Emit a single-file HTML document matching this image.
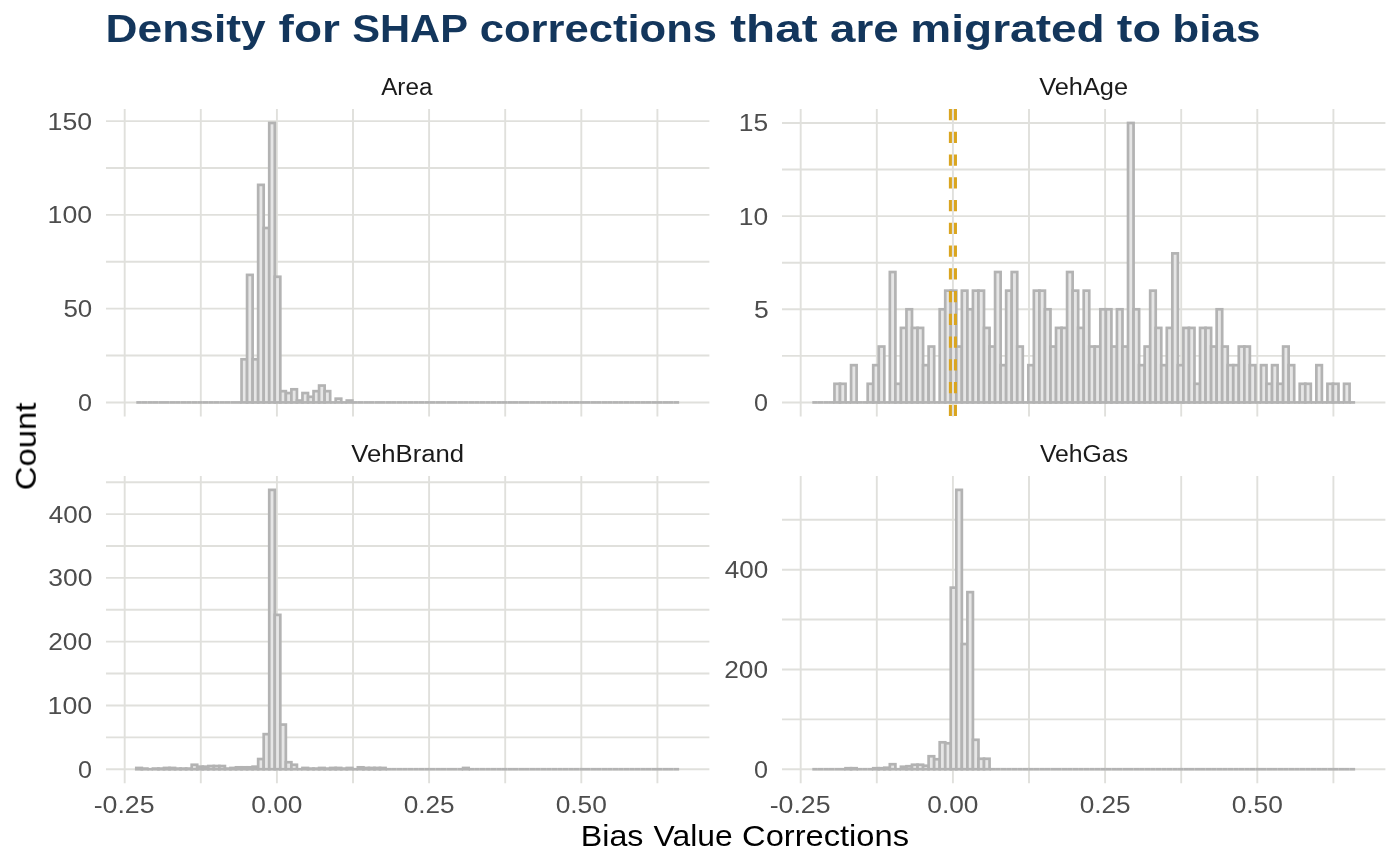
<!DOCTYPE html>
<html><head><meta charset="utf-8"><title>Density for SHAP corrections</title>
<style>html,body{margin:0;padding:0;background:#fff;}body{width:1400px;height:866px;overflow:hidden;font-family:"Liberation Sans",sans-serif;}svg{display:block;} text{will-change:transform;}</style>
</head><body>
<svg width="1400" height="866" viewBox="0 0 1400 866">
<rect width="1400" height="866" fill="#ffffff"/>
<line x1="106" y1="402.43" x2="709.4" y2="402.43" stroke="#e0e0dc" stroke-width="1.9"/>
<line x1="106" y1="355.54" x2="709.4" y2="355.54" stroke="#e0e0dc" stroke-width="1.9"/>
<line x1="106" y1="308.65" x2="709.4" y2="308.65" stroke="#e0e0dc" stroke-width="1.9"/>
<line x1="106" y1="261.76" x2="709.4" y2="261.76" stroke="#e0e0dc" stroke-width="1.9"/>
<line x1="106" y1="214.87" x2="709.4" y2="214.87" stroke="#e0e0dc" stroke-width="1.9"/>
<line x1="106" y1="167.99" x2="709.4" y2="167.99" stroke="#e0e0dc" stroke-width="1.9"/>
<line x1="106" y1="121.1" x2="709.4" y2="121.1" stroke="#e0e0dc" stroke-width="1.9"/>
<line x1="124.7" y1="109" x2="124.7" y2="416.4" stroke="#e0e0dc" stroke-width="1.9"/>
<line x1="200.8" y1="109" x2="200.8" y2="416.4" stroke="#e0e0dc" stroke-width="1.9"/>
<line x1="276.9" y1="109" x2="276.9" y2="416.4" stroke="#e0e0dc" stroke-width="1.9"/>
<line x1="353" y1="109" x2="353" y2="416.4" stroke="#e0e0dc" stroke-width="1.9"/>
<line x1="429.1" y1="109" x2="429.1" y2="416.4" stroke="#e0e0dc" stroke-width="1.9"/>
<line x1="505.2" y1="109" x2="505.2" y2="416.4" stroke="#e0e0dc" stroke-width="1.9"/>
<line x1="581.3" y1="109" x2="581.3" y2="416.4" stroke="#e0e0dc" stroke-width="1.9"/>
<line x1="657.4" y1="109" x2="657.4" y2="416.4" stroke="#e0e0dc" stroke-width="1.9"/>
<line x1="136.3" y1="402.43" x2="141.84" y2="402.43" stroke="#b3b3b3" stroke-width="2.7"/>
<line x1="141.84" y1="402.43" x2="147.38" y2="402.43" stroke="#b3b3b3" stroke-width="2.7"/>
<line x1="147.38" y1="402.43" x2="152.92" y2="402.43" stroke="#b3b3b3" stroke-width="2.7"/>
<line x1="152.92" y1="402.43" x2="158.46" y2="402.43" stroke="#b3b3b3" stroke-width="2.7"/>
<line x1="158.46" y1="402.43" x2="164" y2="402.43" stroke="#b3b3b3" stroke-width="2.7"/>
<line x1="164" y1="402.43" x2="169.53" y2="402.43" stroke="#b3b3b3" stroke-width="2.7"/>
<line x1="169.53" y1="402.43" x2="175.07" y2="402.43" stroke="#b3b3b3" stroke-width="2.7"/>
<line x1="175.07" y1="402.43" x2="180.61" y2="402.43" stroke="#b3b3b3" stroke-width="2.7"/>
<line x1="180.61" y1="402.43" x2="186.15" y2="402.43" stroke="#b3b3b3" stroke-width="2.7"/>
<line x1="186.15" y1="402.43" x2="191.69" y2="402.43" stroke="#b3b3b3" stroke-width="2.7"/>
<line x1="191.69" y1="402.43" x2="197.23" y2="402.43" stroke="#b3b3b3" stroke-width="2.7"/>
<line x1="197.23" y1="402.43" x2="202.77" y2="402.43" stroke="#b3b3b3" stroke-width="2.7"/>
<line x1="202.77" y1="402.43" x2="208.31" y2="402.43" stroke="#b3b3b3" stroke-width="2.7"/>
<line x1="208.31" y1="402.43" x2="213.85" y2="402.43" stroke="#b3b3b3" stroke-width="2.7"/>
<line x1="213.85" y1="402.43" x2="219.38" y2="402.43" stroke="#b3b3b3" stroke-width="2.7"/>
<line x1="219.38" y1="402.43" x2="224.92" y2="402.43" stroke="#b3b3b3" stroke-width="2.7"/>
<line x1="224.92" y1="402.43" x2="230.46" y2="402.43" stroke="#b3b3b3" stroke-width="2.7"/>
<line x1="230.46" y1="402.43" x2="236" y2="402.43" stroke="#b3b3b3" stroke-width="2.7"/>
<line x1="236" y1="402.43" x2="241.54" y2="402.43" stroke="#b3b3b3" stroke-width="2.7"/>
<rect x="241.54" y="359.29" width="5.54" height="43.14" fill="#e6e6e6" stroke="#b3b3b3" stroke-width="2.7"/>
<rect x="247.08" y="274.89" width="5.54" height="127.54" fill="#e6e6e6" stroke="#b3b3b3" stroke-width="2.7"/>
<rect x="252.62" y="359.29" width="5.54" height="43.14" fill="#e6e6e6" stroke="#b3b3b3" stroke-width="2.7"/>
<rect x="258.16" y="184.87" width="5.54" height="217.56" fill="#e6e6e6" stroke="#b3b3b3" stroke-width="2.7"/>
<rect x="263.7" y="228" width="5.54" height="174.42" fill="#e6e6e6" stroke="#b3b3b3" stroke-width="2.7"/>
<rect x="269.24" y="122.97" width="5.54" height="279.45" fill="#e6e6e6" stroke="#b3b3b3" stroke-width="2.7"/>
<rect x="274.77" y="276.77" width="5.54" height="125.66" fill="#e6e6e6" stroke="#b3b3b3" stroke-width="2.7"/>
<rect x="280.31" y="391.17" width="5.54" height="11.25" fill="#e6e6e6" stroke="#b3b3b3" stroke-width="2.7"/>
<rect x="285.85" y="393.05" width="5.54" height="9.38" fill="#e6e6e6" stroke="#b3b3b3" stroke-width="2.7"/>
<rect x="291.39" y="389.3" width="5.54" height="13.13" fill="#e6e6e6" stroke="#b3b3b3" stroke-width="2.7"/>
<rect x="296.93" y="400.55" width="5.54" height="1.88" fill="#e6e6e6" stroke="#b3b3b3" stroke-width="2.7"/>
<rect x="302.47" y="393.05" width="5.54" height="9.38" fill="#e6e6e6" stroke="#b3b3b3" stroke-width="2.7"/>
<rect x="308.01" y="396.8" width="5.54" height="5.63" fill="#e6e6e6" stroke="#b3b3b3" stroke-width="2.7"/>
<rect x="313.55" y="391.17" width="5.54" height="11.25" fill="#e6e6e6" stroke="#b3b3b3" stroke-width="2.7"/>
<rect x="319.09" y="385.55" width="5.54" height="16.88" fill="#e6e6e6" stroke="#b3b3b3" stroke-width="2.7"/>
<rect x="324.63" y="391.17" width="5.54" height="11.25" fill="#e6e6e6" stroke="#b3b3b3" stroke-width="2.7"/>
<line x1="330.16" y1="402.43" x2="335.7" y2="402.43" stroke="#b3b3b3" stroke-width="2.7"/>
<rect x="335.7" y="398.68" width="5.54" height="3.75" fill="#e6e6e6" stroke="#b3b3b3" stroke-width="2.7"/>
<line x1="341.24" y1="402.43" x2="346.78" y2="402.43" stroke="#b3b3b3" stroke-width="2.7"/>
<rect x="346.78" y="400.55" width="5.54" height="1.88" fill="#e6e6e6" stroke="#b3b3b3" stroke-width="2.7"/>
<line x1="352.32" y1="402.43" x2="357.86" y2="402.43" stroke="#b3b3b3" stroke-width="2.7"/>
<line x1="357.86" y1="402.43" x2="363.4" y2="402.43" stroke="#b3b3b3" stroke-width="2.7"/>
<line x1="363.4" y1="402.43" x2="368.94" y2="402.43" stroke="#b3b3b3" stroke-width="2.7"/>
<line x1="368.94" y1="402.43" x2="374.48" y2="402.43" stroke="#b3b3b3" stroke-width="2.7"/>
<line x1="374.48" y1="402.43" x2="380.02" y2="402.43" stroke="#b3b3b3" stroke-width="2.7"/>
<line x1="380.02" y1="402.43" x2="385.55" y2="402.43" stroke="#b3b3b3" stroke-width="2.7"/>
<line x1="385.56" y1="402.43" x2="391.09" y2="402.43" stroke="#b3b3b3" stroke-width="2.7"/>
<line x1="391.09" y1="402.43" x2="396.63" y2="402.43" stroke="#b3b3b3" stroke-width="2.7"/>
<line x1="396.63" y1="402.43" x2="402.17" y2="402.43" stroke="#b3b3b3" stroke-width="2.7"/>
<line x1="402.17" y1="402.43" x2="407.71" y2="402.43" stroke="#b3b3b3" stroke-width="2.7"/>
<line x1="407.71" y1="402.43" x2="413.25" y2="402.43" stroke="#b3b3b3" stroke-width="2.7"/>
<line x1="413.25" y1="402.43" x2="418.79" y2="402.43" stroke="#b3b3b3" stroke-width="2.7"/>
<line x1="418.79" y1="402.43" x2="424.33" y2="402.43" stroke="#b3b3b3" stroke-width="2.7"/>
<line x1="424.33" y1="402.43" x2="429.87" y2="402.43" stroke="#b3b3b3" stroke-width="2.7"/>
<line x1="429.87" y1="402.43" x2="435.41" y2="402.43" stroke="#b3b3b3" stroke-width="2.7"/>
<line x1="435.41" y1="402.43" x2="440.94" y2="402.43" stroke="#b3b3b3" stroke-width="2.7"/>
<line x1="440.94" y1="402.43" x2="446.48" y2="402.43" stroke="#b3b3b3" stroke-width="2.7"/>
<line x1="446.48" y1="402.43" x2="452.02" y2="402.43" stroke="#b3b3b3" stroke-width="2.7"/>
<line x1="452.02" y1="402.43" x2="457.56" y2="402.43" stroke="#b3b3b3" stroke-width="2.7"/>
<line x1="457.56" y1="402.43" x2="463.1" y2="402.43" stroke="#b3b3b3" stroke-width="2.7"/>
<line x1="463.1" y1="402.43" x2="468.64" y2="402.43" stroke="#b3b3b3" stroke-width="2.7"/>
<line x1="468.64" y1="402.43" x2="474.18" y2="402.43" stroke="#b3b3b3" stroke-width="2.7"/>
<line x1="474.18" y1="402.43" x2="479.72" y2="402.43" stroke="#b3b3b3" stroke-width="2.7"/>
<line x1="479.72" y1="402.43" x2="485.26" y2="402.43" stroke="#b3b3b3" stroke-width="2.7"/>
<line x1="485.26" y1="402.43" x2="490.8" y2="402.43" stroke="#b3b3b3" stroke-width="2.7"/>
<line x1="490.8" y1="402.43" x2="496.33" y2="402.43" stroke="#b3b3b3" stroke-width="2.7"/>
<line x1="496.33" y1="402.43" x2="501.87" y2="402.43" stroke="#b3b3b3" stroke-width="2.7"/>
<line x1="501.87" y1="402.43" x2="507.41" y2="402.43" stroke="#b3b3b3" stroke-width="2.7"/>
<line x1="507.41" y1="402.43" x2="512.95" y2="402.43" stroke="#b3b3b3" stroke-width="2.7"/>
<line x1="512.95" y1="402.43" x2="518.49" y2="402.43" stroke="#b3b3b3" stroke-width="2.7"/>
<line x1="518.49" y1="402.43" x2="524.03" y2="402.43" stroke="#b3b3b3" stroke-width="2.7"/>
<line x1="524.03" y1="402.43" x2="529.57" y2="402.43" stroke="#b3b3b3" stroke-width="2.7"/>
<line x1="529.57" y1="402.43" x2="535.11" y2="402.43" stroke="#b3b3b3" stroke-width="2.7"/>
<line x1="535.11" y1="402.43" x2="540.65" y2="402.43" stroke="#b3b3b3" stroke-width="2.7"/>
<line x1="540.65" y1="402.43" x2="546.19" y2="402.43" stroke="#b3b3b3" stroke-width="2.7"/>
<line x1="546.19" y1="402.43" x2="551.72" y2="402.43" stroke="#b3b3b3" stroke-width="2.7"/>
<line x1="551.72" y1="402.43" x2="557.26" y2="402.43" stroke="#b3b3b3" stroke-width="2.7"/>
<line x1="557.26" y1="402.43" x2="562.8" y2="402.43" stroke="#b3b3b3" stroke-width="2.7"/>
<line x1="562.8" y1="402.43" x2="568.34" y2="402.43" stroke="#b3b3b3" stroke-width="2.7"/>
<line x1="568.34" y1="402.43" x2="573.88" y2="402.43" stroke="#b3b3b3" stroke-width="2.7"/>
<line x1="573.88" y1="402.43" x2="579.42" y2="402.43" stroke="#b3b3b3" stroke-width="2.7"/>
<line x1="579.42" y1="402.43" x2="584.96" y2="402.43" stroke="#b3b3b3" stroke-width="2.7"/>
<line x1="584.96" y1="402.43" x2="590.5" y2="402.43" stroke="#b3b3b3" stroke-width="2.7"/>
<line x1="590.5" y1="402.43" x2="596.04" y2="402.43" stroke="#b3b3b3" stroke-width="2.7"/>
<line x1="596.04" y1="402.43" x2="601.58" y2="402.43" stroke="#b3b3b3" stroke-width="2.7"/>
<line x1="601.58" y1="402.43" x2="607.12" y2="402.43" stroke="#b3b3b3" stroke-width="2.7"/>
<line x1="607.12" y1="402.43" x2="612.65" y2="402.43" stroke="#b3b3b3" stroke-width="2.7"/>
<line x1="612.65" y1="402.43" x2="618.19" y2="402.43" stroke="#b3b3b3" stroke-width="2.7"/>
<line x1="618.19" y1="402.43" x2="623.73" y2="402.43" stroke="#b3b3b3" stroke-width="2.7"/>
<line x1="623.73" y1="402.43" x2="629.27" y2="402.43" stroke="#b3b3b3" stroke-width="2.7"/>
<line x1="629.27" y1="402.43" x2="634.81" y2="402.43" stroke="#b3b3b3" stroke-width="2.7"/>
<line x1="634.81" y1="402.43" x2="640.35" y2="402.43" stroke="#b3b3b3" stroke-width="2.7"/>
<line x1="640.35" y1="402.43" x2="645.89" y2="402.43" stroke="#b3b3b3" stroke-width="2.7"/>
<line x1="645.89" y1="402.43" x2="651.43" y2="402.43" stroke="#b3b3b3" stroke-width="2.7"/>
<line x1="651.43" y1="402.43" x2="656.97" y2="402.43" stroke="#b3b3b3" stroke-width="2.7"/>
<line x1="656.97" y1="402.43" x2="662.5" y2="402.43" stroke="#b3b3b3" stroke-width="2.7"/>
<line x1="662.5" y1="402.43" x2="668.04" y2="402.43" stroke="#b3b3b3" stroke-width="2.7"/>
<line x1="668.04" y1="402.43" x2="673.58" y2="402.43" stroke="#b3b3b3" stroke-width="2.7"/>
<line x1="673.58" y1="402.43" x2="679.12" y2="402.43" stroke="#b3b3b3" stroke-width="2.7"/>
<line x1="782" y1="402.43" x2="1385.4" y2="402.43" stroke="#e0e0dc" stroke-width="1.9"/>
<line x1="782" y1="355.85" x2="1385.4" y2="355.85" stroke="#e0e0dc" stroke-width="1.9"/>
<line x1="782" y1="309.28" x2="1385.4" y2="309.28" stroke="#e0e0dc" stroke-width="1.9"/>
<line x1="782" y1="262.7" x2="1385.4" y2="262.7" stroke="#e0e0dc" stroke-width="1.9"/>
<line x1="782" y1="216.12" x2="1385.4" y2="216.12" stroke="#e0e0dc" stroke-width="1.9"/>
<line x1="782" y1="169.55" x2="1385.4" y2="169.55" stroke="#e0e0dc" stroke-width="1.9"/>
<line x1="782" y1="122.97" x2="1385.4" y2="122.97" stroke="#e0e0dc" stroke-width="1.9"/>
<line x1="800.7" y1="109" x2="800.7" y2="416.4" stroke="#e0e0dc" stroke-width="1.9"/>
<line x1="876.8" y1="109" x2="876.8" y2="416.4" stroke="#e0e0dc" stroke-width="1.9"/>
<line x1="952.9" y1="109" x2="952.9" y2="416.4" stroke="#e0e0dc" stroke-width="1.9"/>
<line x1="1029" y1="109" x2="1029" y2="416.4" stroke="#e0e0dc" stroke-width="1.9"/>
<line x1="1105.1" y1="109" x2="1105.1" y2="416.4" stroke="#e0e0dc" stroke-width="1.9"/>
<line x1="1181.2" y1="109" x2="1181.2" y2="416.4" stroke="#e0e0dc" stroke-width="1.9"/>
<line x1="1257.3" y1="109" x2="1257.3" y2="416.4" stroke="#e0e0dc" stroke-width="1.9"/>
<line x1="1333.4" y1="109" x2="1333.4" y2="416.4" stroke="#e0e0dc" stroke-width="1.9"/>
<line x1="812.3" y1="402.43" x2="817.84" y2="402.43" stroke="#b3b3b3" stroke-width="2.7"/>
<line x1="817.84" y1="402.43" x2="823.38" y2="402.43" stroke="#b3b3b3" stroke-width="2.7"/>
<line x1="823.38" y1="402.43" x2="828.92" y2="402.43" stroke="#b3b3b3" stroke-width="2.7"/>
<line x1="828.92" y1="402.43" x2="834.46" y2="402.43" stroke="#b3b3b3" stroke-width="2.7"/>
<rect x="834.46" y="383.8" width="5.54" height="18.63" fill="#e6e6e6" stroke="#b3b3b3" stroke-width="2.7"/>
<rect x="840" y="383.8" width="5.54" height="18.63" fill="#e6e6e6" stroke="#b3b3b3" stroke-width="2.7"/>
<line x1="845.53" y1="402.43" x2="851.07" y2="402.43" stroke="#b3b3b3" stroke-width="2.7"/>
<rect x="851.07" y="365.17" width="5.54" height="37.26" fill="#e6e6e6" stroke="#b3b3b3" stroke-width="2.7"/>
<line x1="856.61" y1="402.43" x2="862.15" y2="402.43" stroke="#b3b3b3" stroke-width="2.7"/>
<line x1="862.15" y1="402.43" x2="867.69" y2="402.43" stroke="#b3b3b3" stroke-width="2.7"/>
<rect x="867.69" y="383.8" width="5.54" height="18.63" fill="#e6e6e6" stroke="#b3b3b3" stroke-width="2.7"/>
<rect x="873.23" y="365.17" width="5.54" height="37.26" fill="#e6e6e6" stroke="#b3b3b3" stroke-width="2.7"/>
<rect x="878.77" y="346.54" width="5.54" height="55.89" fill="#e6e6e6" stroke="#b3b3b3" stroke-width="2.7"/>
<line x1="884.31" y1="402.43" x2="889.85" y2="402.43" stroke="#b3b3b3" stroke-width="2.7"/>
<rect x="889.85" y="272.02" width="5.54" height="130.41" fill="#e6e6e6" stroke="#b3b3b3" stroke-width="2.7"/>
<rect x="895.38" y="383.8" width="5.54" height="18.63" fill="#e6e6e6" stroke="#b3b3b3" stroke-width="2.7"/>
<rect x="900.92" y="327.91" width="5.54" height="74.52" fill="#e6e6e6" stroke="#b3b3b3" stroke-width="2.7"/>
<rect x="906.46" y="309.28" width="5.54" height="93.15" fill="#e6e6e6" stroke="#b3b3b3" stroke-width="2.7"/>
<rect x="912" y="327.91" width="5.54" height="74.52" fill="#e6e6e6" stroke="#b3b3b3" stroke-width="2.7"/>
<rect x="917.54" y="327.91" width="5.54" height="74.52" fill="#e6e6e6" stroke="#b3b3b3" stroke-width="2.7"/>
<rect x="923.08" y="365.17" width="5.54" height="37.26" fill="#e6e6e6" stroke="#b3b3b3" stroke-width="2.7"/>
<rect x="928.62" y="346.54" width="5.54" height="55.89" fill="#e6e6e6" stroke="#b3b3b3" stroke-width="2.7"/>
<line x1="934.16" y1="402.43" x2="939.7" y2="402.43" stroke="#b3b3b3" stroke-width="2.7"/>
<rect x="939.7" y="309.28" width="5.54" height="93.15" fill="#e6e6e6" stroke="#b3b3b3" stroke-width="2.7"/>
<rect x="945.24" y="290.65" width="5.54" height="111.78" fill="#e6e6e6" stroke="#b3b3b3" stroke-width="2.7"/>
<rect x="950.77" y="290.65" width="5.54" height="111.78" fill="#e6e6e6" stroke="#b3b3b3" stroke-width="2.7"/>
<rect x="956.31" y="346.54" width="5.54" height="55.89" fill="#e6e6e6" stroke="#b3b3b3" stroke-width="2.7"/>
<rect x="961.85" y="290.65" width="5.54" height="111.78" fill="#e6e6e6" stroke="#b3b3b3" stroke-width="2.7"/>
<rect x="967.39" y="309.28" width="5.54" height="93.15" fill="#e6e6e6" stroke="#b3b3b3" stroke-width="2.7"/>
<rect x="972.93" y="290.65" width="5.54" height="111.78" fill="#e6e6e6" stroke="#b3b3b3" stroke-width="2.7"/>
<rect x="978.47" y="290.65" width="5.54" height="111.78" fill="#e6e6e6" stroke="#b3b3b3" stroke-width="2.7"/>
<rect x="984.01" y="327.91" width="5.54" height="74.52" fill="#e6e6e6" stroke="#b3b3b3" stroke-width="2.7"/>
<rect x="989.55" y="346.54" width="5.54" height="55.89" fill="#e6e6e6" stroke="#b3b3b3" stroke-width="2.7"/>
<rect x="995.09" y="272.02" width="5.54" height="130.41" fill="#e6e6e6" stroke="#b3b3b3" stroke-width="2.7"/>
<rect x="1000.63" y="365.17" width="5.54" height="37.26" fill="#e6e6e6" stroke="#b3b3b3" stroke-width="2.7"/>
<rect x="1006.16" y="290.65" width="5.54" height="111.78" fill="#e6e6e6" stroke="#b3b3b3" stroke-width="2.7"/>
<rect x="1011.7" y="272.02" width="5.54" height="130.41" fill="#e6e6e6" stroke="#b3b3b3" stroke-width="2.7"/>
<rect x="1017.24" y="346.54" width="5.54" height="55.89" fill="#e6e6e6" stroke="#b3b3b3" stroke-width="2.7"/>
<line x1="1022.78" y1="402.43" x2="1028.32" y2="402.43" stroke="#b3b3b3" stroke-width="2.7"/>
<rect x="1028.32" y="365.17" width="5.54" height="37.26" fill="#e6e6e6" stroke="#b3b3b3" stroke-width="2.7"/>
<rect x="1033.86" y="290.65" width="5.54" height="111.78" fill="#e6e6e6" stroke="#b3b3b3" stroke-width="2.7"/>
<rect x="1039.4" y="290.65" width="5.54" height="111.78" fill="#e6e6e6" stroke="#b3b3b3" stroke-width="2.7"/>
<rect x="1044.94" y="309.28" width="5.54" height="93.15" fill="#e6e6e6" stroke="#b3b3b3" stroke-width="2.7"/>
<rect x="1050.48" y="346.54" width="5.54" height="55.89" fill="#e6e6e6" stroke="#b3b3b3" stroke-width="2.7"/>
<rect x="1056.02" y="327.91" width="5.54" height="74.52" fill="#e6e6e6" stroke="#b3b3b3" stroke-width="2.7"/>
<rect x="1061.55" y="327.91" width="5.54" height="74.52" fill="#e6e6e6" stroke="#b3b3b3" stroke-width="2.7"/>
<rect x="1067.09" y="272.02" width="5.54" height="130.41" fill="#e6e6e6" stroke="#b3b3b3" stroke-width="2.7"/>
<rect x="1072.63" y="290.65" width="5.54" height="111.78" fill="#e6e6e6" stroke="#b3b3b3" stroke-width="2.7"/>
<rect x="1078.17" y="327.91" width="5.54" height="74.52" fill="#e6e6e6" stroke="#b3b3b3" stroke-width="2.7"/>
<rect x="1083.71" y="290.65" width="5.54" height="111.78" fill="#e6e6e6" stroke="#b3b3b3" stroke-width="2.7"/>
<rect x="1089.25" y="346.54" width="5.54" height="55.89" fill="#e6e6e6" stroke="#b3b3b3" stroke-width="2.7"/>
<rect x="1094.79" y="346.54" width="5.54" height="55.89" fill="#e6e6e6" stroke="#b3b3b3" stroke-width="2.7"/>
<rect x="1100.33" y="309.28" width="5.54" height="93.15" fill="#e6e6e6" stroke="#b3b3b3" stroke-width="2.7"/>
<rect x="1105.87" y="309.28" width="5.54" height="93.15" fill="#e6e6e6" stroke="#b3b3b3" stroke-width="2.7"/>
<rect x="1111.41" y="346.54" width="5.54" height="55.89" fill="#e6e6e6" stroke="#b3b3b3" stroke-width="2.7"/>
<rect x="1116.94" y="309.28" width="5.54" height="93.15" fill="#e6e6e6" stroke="#b3b3b3" stroke-width="2.7"/>
<rect x="1122.48" y="346.54" width="5.54" height="55.89" fill="#e6e6e6" stroke="#b3b3b3" stroke-width="2.7"/>
<rect x="1128.02" y="122.97" width="5.54" height="279.45" fill="#e6e6e6" stroke="#b3b3b3" stroke-width="2.7"/>
<rect x="1133.56" y="309.28" width="5.54" height="93.15" fill="#e6e6e6" stroke="#b3b3b3" stroke-width="2.7"/>
<rect x="1139.1" y="365.17" width="5.54" height="37.26" fill="#e6e6e6" stroke="#b3b3b3" stroke-width="2.7"/>
<rect x="1144.64" y="346.54" width="5.54" height="55.89" fill="#e6e6e6" stroke="#b3b3b3" stroke-width="2.7"/>
<rect x="1150.18" y="290.65" width="5.54" height="111.78" fill="#e6e6e6" stroke="#b3b3b3" stroke-width="2.7"/>
<rect x="1155.72" y="327.91" width="5.54" height="74.52" fill="#e6e6e6" stroke="#b3b3b3" stroke-width="2.7"/>
<rect x="1161.26" y="365.17" width="5.54" height="37.26" fill="#e6e6e6" stroke="#b3b3b3" stroke-width="2.7"/>
<rect x="1166.8" y="327.91" width="5.54" height="74.52" fill="#e6e6e6" stroke="#b3b3b3" stroke-width="2.7"/>
<rect x="1172.34" y="253.38" width="5.54" height="149.04" fill="#e6e6e6" stroke="#b3b3b3" stroke-width="2.7"/>
<rect x="1177.87" y="365.17" width="5.54" height="37.26" fill="#e6e6e6" stroke="#b3b3b3" stroke-width="2.7"/>
<rect x="1183.41" y="327.91" width="5.54" height="74.52" fill="#e6e6e6" stroke="#b3b3b3" stroke-width="2.7"/>
<rect x="1188.95" y="327.91" width="5.54" height="74.52" fill="#e6e6e6" stroke="#b3b3b3" stroke-width="2.7"/>
<rect x="1194.49" y="383.8" width="5.54" height="18.63" fill="#e6e6e6" stroke="#b3b3b3" stroke-width="2.7"/>
<rect x="1200.03" y="327.91" width="5.54" height="74.52" fill="#e6e6e6" stroke="#b3b3b3" stroke-width="2.7"/>
<rect x="1205.57" y="327.91" width="5.54" height="74.52" fill="#e6e6e6" stroke="#b3b3b3" stroke-width="2.7"/>
<rect x="1211.11" y="346.54" width="5.54" height="55.89" fill="#e6e6e6" stroke="#b3b3b3" stroke-width="2.7"/>
<rect x="1216.65" y="309.28" width="5.54" height="93.15" fill="#e6e6e6" stroke="#b3b3b3" stroke-width="2.7"/>
<rect x="1222.19" y="346.54" width="5.54" height="55.89" fill="#e6e6e6" stroke="#b3b3b3" stroke-width="2.7"/>
<rect x="1227.72" y="365.17" width="5.54" height="37.26" fill="#e6e6e6" stroke="#b3b3b3" stroke-width="2.7"/>
<rect x="1233.26" y="365.17" width="5.54" height="37.26" fill="#e6e6e6" stroke="#b3b3b3" stroke-width="2.7"/>
<rect x="1238.8" y="346.54" width="5.54" height="55.89" fill="#e6e6e6" stroke="#b3b3b3" stroke-width="2.7"/>
<rect x="1244.34" y="346.54" width="5.54" height="55.89" fill="#e6e6e6" stroke="#b3b3b3" stroke-width="2.7"/>
<rect x="1249.88" y="365.17" width="5.54" height="37.26" fill="#e6e6e6" stroke="#b3b3b3" stroke-width="2.7"/>
<line x1="1255.42" y1="402.43" x2="1260.96" y2="402.43" stroke="#b3b3b3" stroke-width="2.7"/>
<rect x="1260.96" y="365.17" width="5.54" height="37.26" fill="#e6e6e6" stroke="#b3b3b3" stroke-width="2.7"/>
<rect x="1266.5" y="383.8" width="5.54" height="18.63" fill="#e6e6e6" stroke="#b3b3b3" stroke-width="2.7"/>
<rect x="1272.04" y="365.17" width="5.54" height="37.26" fill="#e6e6e6" stroke="#b3b3b3" stroke-width="2.7"/>
<rect x="1277.58" y="383.8" width="5.54" height="18.63" fill="#e6e6e6" stroke="#b3b3b3" stroke-width="2.7"/>
<rect x="1283.12" y="346.54" width="5.54" height="55.89" fill="#e6e6e6" stroke="#b3b3b3" stroke-width="2.7"/>
<rect x="1288.65" y="365.17" width="5.54" height="37.26" fill="#e6e6e6" stroke="#b3b3b3" stroke-width="2.7"/>
<line x1="1294.19" y1="402.43" x2="1299.73" y2="402.43" stroke="#b3b3b3" stroke-width="2.7"/>
<rect x="1299.73" y="383.8" width="5.54" height="18.63" fill="#e6e6e6" stroke="#b3b3b3" stroke-width="2.7"/>
<rect x="1305.27" y="383.8" width="5.54" height="18.63" fill="#e6e6e6" stroke="#b3b3b3" stroke-width="2.7"/>
<line x1="1310.81" y1="402.43" x2="1316.35" y2="402.43" stroke="#b3b3b3" stroke-width="2.7"/>
<rect x="1316.35" y="365.17" width="5.54" height="37.26" fill="#e6e6e6" stroke="#b3b3b3" stroke-width="2.7"/>
<line x1="1321.89" y1="402.43" x2="1327.43" y2="402.43" stroke="#b3b3b3" stroke-width="2.7"/>
<rect x="1327.43" y="383.8" width="5.54" height="18.63" fill="#e6e6e6" stroke="#b3b3b3" stroke-width="2.7"/>
<rect x="1332.97" y="383.8" width="5.54" height="18.63" fill="#e6e6e6" stroke="#b3b3b3" stroke-width="2.7"/>
<line x1="1338.5" y1="402.43" x2="1344.04" y2="402.43" stroke="#b3b3b3" stroke-width="2.7"/>
<rect x="1344.04" y="383.8" width="5.54" height="18.63" fill="#e6e6e6" stroke="#b3b3b3" stroke-width="2.7"/>
<line x1="1349.58" y1="402.43" x2="1355.12" y2="402.43" stroke="#b3b3b3" stroke-width="2.7"/>
<line x1="950.4" y1="109" x2="950.4" y2="416.4" stroke="#daa520" stroke-width="3.05" stroke-dasharray="11.3 11.45"/>
<line x1="955.45" y1="109" x2="955.45" y2="416.4" stroke="#daa520" stroke-width="3.05" stroke-dasharray="11.3 11.45"/>
<line x1="106" y1="769.23" x2="709.4" y2="769.23" stroke="#e0e0dc" stroke-width="1.9"/>
<line x1="106" y1="737.34" x2="709.4" y2="737.34" stroke="#e0e0dc" stroke-width="1.9"/>
<line x1="106" y1="705.45" x2="709.4" y2="705.45" stroke="#e0e0dc" stroke-width="1.9"/>
<line x1="106" y1="673.56" x2="709.4" y2="673.56" stroke="#e0e0dc" stroke-width="1.9"/>
<line x1="106" y1="641.67" x2="709.4" y2="641.67" stroke="#e0e0dc" stroke-width="1.9"/>
<line x1="106" y1="609.78" x2="709.4" y2="609.78" stroke="#e0e0dc" stroke-width="1.9"/>
<line x1="106" y1="577.89" x2="709.4" y2="577.89" stroke="#e0e0dc" stroke-width="1.9"/>
<line x1="106" y1="546" x2="709.4" y2="546" stroke="#e0e0dc" stroke-width="1.9"/>
<line x1="106" y1="514.11" x2="709.4" y2="514.11" stroke="#e0e0dc" stroke-width="1.9"/>
<line x1="106" y1="482.21" x2="709.4" y2="482.21" stroke="#e0e0dc" stroke-width="1.9"/>
<line x1="124.7" y1="475.9" x2="124.7" y2="783.2" stroke="#e0e0dc" stroke-width="1.9"/>
<line x1="200.8" y1="475.9" x2="200.8" y2="783.2" stroke="#e0e0dc" stroke-width="1.9"/>
<line x1="276.9" y1="475.9" x2="276.9" y2="783.2" stroke="#e0e0dc" stroke-width="1.9"/>
<line x1="353" y1="475.9" x2="353" y2="783.2" stroke="#e0e0dc" stroke-width="1.9"/>
<line x1="429.1" y1="475.9" x2="429.1" y2="783.2" stroke="#e0e0dc" stroke-width="1.9"/>
<line x1="505.2" y1="475.9" x2="505.2" y2="783.2" stroke="#e0e0dc" stroke-width="1.9"/>
<line x1="581.3" y1="475.9" x2="581.3" y2="783.2" stroke="#e0e0dc" stroke-width="1.9"/>
<line x1="657.4" y1="475.9" x2="657.4" y2="783.2" stroke="#e0e0dc" stroke-width="1.9"/>
<rect x="136.3" y="767.96" width="5.54" height="1.28" fill="#e6e6e6" stroke="#b3b3b3" stroke-width="2.7"/>
<rect x="141.84" y="768.59" width="5.54" height="0.64" fill="#e6e6e6" stroke="#b3b3b3" stroke-width="2.7"/>
<line x1="147.38" y1="769.23" x2="152.92" y2="769.23" stroke="#b3b3b3" stroke-width="2.7"/>
<rect x="152.92" y="768.59" width="5.54" height="0.64" fill="#e6e6e6" stroke="#b3b3b3" stroke-width="2.7"/>
<rect x="158.46" y="768.59" width="5.54" height="0.64" fill="#e6e6e6" stroke="#b3b3b3" stroke-width="2.7"/>
<rect x="164" y="767.96" width="5.54" height="1.28" fill="#e6e6e6" stroke="#b3b3b3" stroke-width="2.7"/>
<rect x="169.53" y="767.96" width="5.54" height="1.28" fill="#e6e6e6" stroke="#b3b3b3" stroke-width="2.7"/>
<rect x="175.07" y="768.59" width="5.54" height="0.64" fill="#e6e6e6" stroke="#b3b3b3" stroke-width="2.7"/>
<rect x="180.61" y="768.59" width="5.54" height="0.64" fill="#e6e6e6" stroke="#b3b3b3" stroke-width="2.7"/>
<rect x="186.15" y="768.59" width="5.54" height="0.64" fill="#e6e6e6" stroke="#b3b3b3" stroke-width="2.7"/>
<rect x="191.69" y="764.77" width="5.54" height="4.46" fill="#e6e6e6" stroke="#b3b3b3" stroke-width="2.7"/>
<rect x="197.23" y="766.68" width="5.54" height="2.55" fill="#e6e6e6" stroke="#b3b3b3" stroke-width="2.7"/>
<rect x="202.77" y="766.68" width="5.54" height="2.55" fill="#e6e6e6" stroke="#b3b3b3" stroke-width="2.7"/>
<rect x="208.31" y="766.04" width="5.54" height="3.19" fill="#e6e6e6" stroke="#b3b3b3" stroke-width="2.7"/>
<rect x="213.85" y="766.04" width="5.54" height="3.19" fill="#e6e6e6" stroke="#b3b3b3" stroke-width="2.7"/>
<rect x="219.38" y="766.04" width="5.54" height="3.19" fill="#e6e6e6" stroke="#b3b3b3" stroke-width="2.7"/>
<rect x="224.92" y="768.59" width="5.54" height="0.64" fill="#e6e6e6" stroke="#b3b3b3" stroke-width="2.7"/>
<rect x="230.46" y="767.96" width="5.54" height="1.28" fill="#e6e6e6" stroke="#b3b3b3" stroke-width="2.7"/>
<rect x="236" y="767.32" width="5.54" height="1.91" fill="#e6e6e6" stroke="#b3b3b3" stroke-width="2.7"/>
<rect x="241.54" y="767.32" width="5.54" height="1.91" fill="#e6e6e6" stroke="#b3b3b3" stroke-width="2.7"/>
<rect x="247.08" y="767.32" width="5.54" height="1.91" fill="#e6e6e6" stroke="#b3b3b3" stroke-width="2.7"/>
<rect x="252.62" y="766.68" width="5.54" height="2.55" fill="#e6e6e6" stroke="#b3b3b3" stroke-width="2.7"/>
<rect x="258.16" y="759.03" width="5.54" height="10.21" fill="#e6e6e6" stroke="#b3b3b3" stroke-width="2.7"/>
<rect x="263.7" y="734.15" width="5.54" height="35.08" fill="#e6e6e6" stroke="#b3b3b3" stroke-width="2.7"/>
<rect x="269.24" y="489.87" width="5.54" height="279.36" fill="#e6e6e6" stroke="#b3b3b3" stroke-width="2.7"/>
<rect x="274.77" y="614.88" width="5.54" height="154.35" fill="#e6e6e6" stroke="#b3b3b3" stroke-width="2.7"/>
<rect x="280.31" y="724.58" width="5.54" height="44.65" fill="#e6e6e6" stroke="#b3b3b3" stroke-width="2.7"/>
<rect x="285.85" y="762.22" width="5.54" height="7.02" fill="#e6e6e6" stroke="#b3b3b3" stroke-width="2.7"/>
<rect x="291.39" y="764.77" width="5.54" height="4.46" fill="#e6e6e6" stroke="#b3b3b3" stroke-width="2.7"/>
<line x1="296.93" y1="769.23" x2="302.47" y2="769.23" stroke="#b3b3b3" stroke-width="2.7"/>
<rect x="302.47" y="767.96" width="5.54" height="1.28" fill="#e6e6e6" stroke="#b3b3b3" stroke-width="2.7"/>
<rect x="308.01" y="768.59" width="5.54" height="0.64" fill="#e6e6e6" stroke="#b3b3b3" stroke-width="2.7"/>
<rect x="313.55" y="768.59" width="5.54" height="0.64" fill="#e6e6e6" stroke="#b3b3b3" stroke-width="2.7"/>
<rect x="319.09" y="767.96" width="5.54" height="1.28" fill="#e6e6e6" stroke="#b3b3b3" stroke-width="2.7"/>
<rect x="324.63" y="768.59" width="5.54" height="0.64" fill="#e6e6e6" stroke="#b3b3b3" stroke-width="2.7"/>
<rect x="330.16" y="767.96" width="5.54" height="1.28" fill="#e6e6e6" stroke="#b3b3b3" stroke-width="2.7"/>
<rect x="335.7" y="767.96" width="5.54" height="1.28" fill="#e6e6e6" stroke="#b3b3b3" stroke-width="2.7"/>
<rect x="341.24" y="768.59" width="5.54" height="0.64" fill="#e6e6e6" stroke="#b3b3b3" stroke-width="2.7"/>
<rect x="346.78" y="767.96" width="5.54" height="1.28" fill="#e6e6e6" stroke="#b3b3b3" stroke-width="2.7"/>
<line x1="352.32" y1="769.23" x2="357.86" y2="769.23" stroke="#b3b3b3" stroke-width="2.7"/>
<rect x="357.86" y="767.32" width="5.54" height="1.91" fill="#e6e6e6" stroke="#b3b3b3" stroke-width="2.7"/>
<rect x="363.4" y="767.96" width="5.54" height="1.28" fill="#e6e6e6" stroke="#b3b3b3" stroke-width="2.7"/>
<rect x="368.94" y="767.96" width="5.54" height="1.28" fill="#e6e6e6" stroke="#b3b3b3" stroke-width="2.7"/>
<rect x="374.48" y="767.96" width="5.54" height="1.28" fill="#e6e6e6" stroke="#b3b3b3" stroke-width="2.7"/>
<rect x="380.02" y="767.96" width="5.54" height="1.28" fill="#e6e6e6" stroke="#b3b3b3" stroke-width="2.7"/>
<line x1="385.56" y1="769.23" x2="391.09" y2="769.23" stroke="#b3b3b3" stroke-width="2.7"/>
<line x1="391.09" y1="769.23" x2="396.63" y2="769.23" stroke="#b3b3b3" stroke-width="2.7"/>
<line x1="396.63" y1="769.23" x2="402.17" y2="769.23" stroke="#b3b3b3" stroke-width="2.7"/>
<line x1="402.17" y1="769.23" x2="407.71" y2="769.23" stroke="#b3b3b3" stroke-width="2.7"/>
<line x1="407.71" y1="769.23" x2="413.25" y2="769.23" stroke="#b3b3b3" stroke-width="2.7"/>
<line x1="413.25" y1="769.23" x2="418.79" y2="769.23" stroke="#b3b3b3" stroke-width="2.7"/>
<line x1="418.79" y1="769.23" x2="424.33" y2="769.23" stroke="#b3b3b3" stroke-width="2.7"/>
<line x1="424.33" y1="769.23" x2="429.87" y2="769.23" stroke="#b3b3b3" stroke-width="2.7"/>
<line x1="429.87" y1="769.23" x2="435.41" y2="769.23" stroke="#b3b3b3" stroke-width="2.7"/>
<line x1="435.41" y1="769.23" x2="440.94" y2="769.23" stroke="#b3b3b3" stroke-width="2.7"/>
<line x1="440.94" y1="769.23" x2="446.48" y2="769.23" stroke="#b3b3b3" stroke-width="2.7"/>
<line x1="446.48" y1="769.23" x2="452.02" y2="769.23" stroke="#b3b3b3" stroke-width="2.7"/>
<line x1="452.02" y1="769.23" x2="457.56" y2="769.23" stroke="#b3b3b3" stroke-width="2.7"/>
<line x1="457.56" y1="769.23" x2="463.1" y2="769.23" stroke="#b3b3b3" stroke-width="2.7"/>
<rect x="463.1" y="767.96" width="5.54" height="1.28" fill="#e6e6e6" stroke="#b3b3b3" stroke-width="2.7"/>
<line x1="468.64" y1="769.23" x2="474.18" y2="769.23" stroke="#b3b3b3" stroke-width="2.7"/>
<line x1="474.18" y1="769.23" x2="479.72" y2="769.23" stroke="#b3b3b3" stroke-width="2.7"/>
<line x1="479.72" y1="769.23" x2="485.26" y2="769.23" stroke="#b3b3b3" stroke-width="2.7"/>
<line x1="485.26" y1="769.23" x2="490.8" y2="769.23" stroke="#b3b3b3" stroke-width="2.7"/>
<line x1="490.8" y1="769.23" x2="496.33" y2="769.23" stroke="#b3b3b3" stroke-width="2.7"/>
<line x1="496.33" y1="769.23" x2="501.87" y2="769.23" stroke="#b3b3b3" stroke-width="2.7"/>
<line x1="501.87" y1="769.23" x2="507.41" y2="769.23" stroke="#b3b3b3" stroke-width="2.7"/>
<line x1="507.41" y1="769.23" x2="512.95" y2="769.23" stroke="#b3b3b3" stroke-width="2.7"/>
<line x1="512.95" y1="769.23" x2="518.49" y2="769.23" stroke="#b3b3b3" stroke-width="2.7"/>
<line x1="518.49" y1="769.23" x2="524.03" y2="769.23" stroke="#b3b3b3" stroke-width="2.7"/>
<line x1="524.03" y1="769.23" x2="529.57" y2="769.23" stroke="#b3b3b3" stroke-width="2.7"/>
<line x1="529.57" y1="769.23" x2="535.11" y2="769.23" stroke="#b3b3b3" stroke-width="2.7"/>
<line x1="535.11" y1="769.23" x2="540.65" y2="769.23" stroke="#b3b3b3" stroke-width="2.7"/>
<line x1="540.65" y1="769.23" x2="546.19" y2="769.23" stroke="#b3b3b3" stroke-width="2.7"/>
<line x1="546.19" y1="769.23" x2="551.72" y2="769.23" stroke="#b3b3b3" stroke-width="2.7"/>
<line x1="551.72" y1="769.23" x2="557.26" y2="769.23" stroke="#b3b3b3" stroke-width="2.7"/>
<line x1="557.26" y1="769.23" x2="562.8" y2="769.23" stroke="#b3b3b3" stroke-width="2.7"/>
<line x1="562.8" y1="769.23" x2="568.34" y2="769.23" stroke="#b3b3b3" stroke-width="2.7"/>
<line x1="568.34" y1="769.23" x2="573.88" y2="769.23" stroke="#b3b3b3" stroke-width="2.7"/>
<line x1="573.88" y1="769.23" x2="579.42" y2="769.23" stroke="#b3b3b3" stroke-width="2.7"/>
<line x1="579.42" y1="769.23" x2="584.96" y2="769.23" stroke="#b3b3b3" stroke-width="2.7"/>
<line x1="584.96" y1="769.23" x2="590.5" y2="769.23" stroke="#b3b3b3" stroke-width="2.7"/>
<line x1="590.5" y1="769.23" x2="596.04" y2="769.23" stroke="#b3b3b3" stroke-width="2.7"/>
<line x1="596.04" y1="769.23" x2="601.58" y2="769.23" stroke="#b3b3b3" stroke-width="2.7"/>
<line x1="601.58" y1="769.23" x2="607.12" y2="769.23" stroke="#b3b3b3" stroke-width="2.7"/>
<line x1="607.12" y1="769.23" x2="612.65" y2="769.23" stroke="#b3b3b3" stroke-width="2.7"/>
<line x1="612.65" y1="769.23" x2="618.19" y2="769.23" stroke="#b3b3b3" stroke-width="2.7"/>
<line x1="618.19" y1="769.23" x2="623.73" y2="769.23" stroke="#b3b3b3" stroke-width="2.7"/>
<line x1="623.73" y1="769.23" x2="629.27" y2="769.23" stroke="#b3b3b3" stroke-width="2.7"/>
<line x1="629.27" y1="769.23" x2="634.81" y2="769.23" stroke="#b3b3b3" stroke-width="2.7"/>
<line x1="634.81" y1="769.23" x2="640.35" y2="769.23" stroke="#b3b3b3" stroke-width="2.7"/>
<line x1="640.35" y1="769.23" x2="645.89" y2="769.23" stroke="#b3b3b3" stroke-width="2.7"/>
<line x1="645.89" y1="769.23" x2="651.43" y2="769.23" stroke="#b3b3b3" stroke-width="2.7"/>
<line x1="651.43" y1="769.23" x2="656.97" y2="769.23" stroke="#b3b3b3" stroke-width="2.7"/>
<line x1="656.97" y1="769.23" x2="662.5" y2="769.23" stroke="#b3b3b3" stroke-width="2.7"/>
<line x1="662.5" y1="769.23" x2="668.04" y2="769.23" stroke="#b3b3b3" stroke-width="2.7"/>
<line x1="668.04" y1="769.23" x2="673.58" y2="769.23" stroke="#b3b3b3" stroke-width="2.7"/>
<line x1="673.58" y1="769.23" x2="679.12" y2="769.23" stroke="#b3b3b3" stroke-width="2.7"/>
<line x1="782" y1="769.23" x2="1385.4" y2="769.23" stroke="#e0e0dc" stroke-width="1.9"/>
<line x1="782" y1="719.35" x2="1385.4" y2="719.35" stroke="#e0e0dc" stroke-width="1.9"/>
<line x1="782" y1="669.46" x2="1385.4" y2="669.46" stroke="#e0e0dc" stroke-width="1.9"/>
<line x1="782" y1="619.57" x2="1385.4" y2="619.57" stroke="#e0e0dc" stroke-width="1.9"/>
<line x1="782" y1="569.69" x2="1385.4" y2="569.69" stroke="#e0e0dc" stroke-width="1.9"/>
<line x1="782" y1="519.8" x2="1385.4" y2="519.8" stroke="#e0e0dc" stroke-width="1.9"/>
<line x1="800.7" y1="475.9" x2="800.7" y2="783.2" stroke="#e0e0dc" stroke-width="1.9"/>
<line x1="876.8" y1="475.9" x2="876.8" y2="783.2" stroke="#e0e0dc" stroke-width="1.9"/>
<line x1="952.9" y1="475.9" x2="952.9" y2="783.2" stroke="#e0e0dc" stroke-width="1.9"/>
<line x1="1029" y1="475.9" x2="1029" y2="783.2" stroke="#e0e0dc" stroke-width="1.9"/>
<line x1="1105.1" y1="475.9" x2="1105.1" y2="783.2" stroke="#e0e0dc" stroke-width="1.9"/>
<line x1="1181.2" y1="475.9" x2="1181.2" y2="783.2" stroke="#e0e0dc" stroke-width="1.9"/>
<line x1="1257.3" y1="475.9" x2="1257.3" y2="783.2" stroke="#e0e0dc" stroke-width="1.9"/>
<line x1="1333.4" y1="475.9" x2="1333.4" y2="783.2" stroke="#e0e0dc" stroke-width="1.9"/>
<line x1="812.3" y1="769.23" x2="817.84" y2="769.23" stroke="#b3b3b3" stroke-width="2.7"/>
<line x1="817.84" y1="769.23" x2="823.38" y2="769.23" stroke="#b3b3b3" stroke-width="2.7"/>
<line x1="823.38" y1="769.23" x2="828.92" y2="769.23" stroke="#b3b3b3" stroke-width="2.7"/>
<line x1="828.92" y1="769.23" x2="834.46" y2="769.23" stroke="#b3b3b3" stroke-width="2.7"/>
<line x1="834.46" y1="769.23" x2="839.99" y2="769.23" stroke="#b3b3b3" stroke-width="2.7"/>
<line x1="840" y1="769.23" x2="845.53" y2="769.23" stroke="#b3b3b3" stroke-width="2.7"/>
<rect x="845.53" y="768.23" width="5.54" height="1" fill="#e6e6e6" stroke="#b3b3b3" stroke-width="2.7"/>
<rect x="851.07" y="768.23" width="5.54" height="1" fill="#e6e6e6" stroke="#b3b3b3" stroke-width="2.7"/>
<line x1="856.61" y1="769.23" x2="862.15" y2="769.23" stroke="#b3b3b3" stroke-width="2.7"/>
<line x1="862.15" y1="769.23" x2="867.69" y2="769.23" stroke="#b3b3b3" stroke-width="2.7"/>
<line x1="867.69" y1="769.23" x2="873.23" y2="769.23" stroke="#b3b3b3" stroke-width="2.7"/>
<rect x="873.23" y="768.23" width="5.54" height="1" fill="#e6e6e6" stroke="#b3b3b3" stroke-width="2.7"/>
<rect x="878.77" y="768.23" width="5.54" height="1" fill="#e6e6e6" stroke="#b3b3b3" stroke-width="2.7"/>
<rect x="884.31" y="767.74" width="5.54" height="1.5" fill="#e6e6e6" stroke="#b3b3b3" stroke-width="2.7"/>
<rect x="889.85" y="764.24" width="5.54" height="4.99" fill="#e6e6e6" stroke="#b3b3b3" stroke-width="2.7"/>
<line x1="895.38" y1="769.23" x2="900.92" y2="769.23" stroke="#b3b3b3" stroke-width="2.7"/>
<rect x="900.92" y="766.74" width="5.54" height="2.49" fill="#e6e6e6" stroke="#b3b3b3" stroke-width="2.7"/>
<rect x="906.46" y="766.24" width="5.54" height="2.99" fill="#e6e6e6" stroke="#b3b3b3" stroke-width="2.7"/>
<rect x="912" y="764.74" width="5.54" height="4.49" fill="#e6e6e6" stroke="#b3b3b3" stroke-width="2.7"/>
<rect x="917.54" y="764.74" width="5.54" height="4.49" fill="#e6e6e6" stroke="#b3b3b3" stroke-width="2.7"/>
<rect x="923.08" y="765.74" width="5.54" height="3.49" fill="#e6e6e6" stroke="#b3b3b3" stroke-width="2.7"/>
<rect x="928.62" y="756.26" width="5.54" height="12.97" fill="#e6e6e6" stroke="#b3b3b3" stroke-width="2.7"/>
<rect x="934.16" y="759.25" width="5.54" height="9.98" fill="#e6e6e6" stroke="#b3b3b3" stroke-width="2.7"/>
<rect x="939.7" y="742.29" width="5.54" height="26.94" fill="#e6e6e6" stroke="#b3b3b3" stroke-width="2.7"/>
<rect x="945.24" y="743.29" width="5.54" height="25.94" fill="#e6e6e6" stroke="#b3b3b3" stroke-width="2.7"/>
<rect x="950.77" y="587.65" width="5.54" height="181.59" fill="#e6e6e6" stroke="#b3b3b3" stroke-width="2.7"/>
<rect x="956.31" y="489.87" width="5.54" height="279.36" fill="#e6e6e6" stroke="#b3b3b3" stroke-width="2.7"/>
<rect x="961.85" y="644.02" width="5.54" height="125.21" fill="#e6e6e6" stroke="#b3b3b3" stroke-width="2.7"/>
<rect x="967.39" y="592.14" width="5.54" height="177.1" fill="#e6e6e6" stroke="#b3b3b3" stroke-width="2.7"/>
<rect x="972.93" y="739.8" width="5.54" height="29.43" fill="#e6e6e6" stroke="#b3b3b3" stroke-width="2.7"/>
<rect x="978.47" y="758.76" width="5.54" height="10.48" fill="#e6e6e6" stroke="#b3b3b3" stroke-width="2.7"/>
<rect x="984.01" y="758.76" width="5.54" height="10.48" fill="#e6e6e6" stroke="#b3b3b3" stroke-width="2.7"/>
<line x1="989.55" y1="769.23" x2="995.09" y2="769.23" stroke="#b3b3b3" stroke-width="2.7"/>
<line x1="995.09" y1="769.23" x2="1000.63" y2="769.23" stroke="#b3b3b3" stroke-width="2.7"/>
<line x1="1000.63" y1="769.23" x2="1006.16" y2="769.23" stroke="#b3b3b3" stroke-width="2.7"/>
<line x1="1006.16" y1="769.23" x2="1011.7" y2="769.23" stroke="#b3b3b3" stroke-width="2.7"/>
<line x1="1011.7" y1="769.23" x2="1017.24" y2="769.23" stroke="#b3b3b3" stroke-width="2.7"/>
<line x1="1017.24" y1="769.23" x2="1022.78" y2="769.23" stroke="#b3b3b3" stroke-width="2.7"/>
<line x1="1022.78" y1="769.23" x2="1028.32" y2="769.23" stroke="#b3b3b3" stroke-width="2.7"/>
<line x1="1028.32" y1="769.23" x2="1033.86" y2="769.23" stroke="#b3b3b3" stroke-width="2.7"/>
<line x1="1033.86" y1="769.23" x2="1039.4" y2="769.23" stroke="#b3b3b3" stroke-width="2.7"/>
<line x1="1039.4" y1="769.23" x2="1044.94" y2="769.23" stroke="#b3b3b3" stroke-width="2.7"/>
<line x1="1044.94" y1="769.23" x2="1050.48" y2="769.23" stroke="#b3b3b3" stroke-width="2.7"/>
<line x1="1050.48" y1="769.23" x2="1056.02" y2="769.23" stroke="#b3b3b3" stroke-width="2.7"/>
<line x1="1056.02" y1="769.23" x2="1061.55" y2="769.23" stroke="#b3b3b3" stroke-width="2.7"/>
<line x1="1061.55" y1="769.23" x2="1067.09" y2="769.23" stroke="#b3b3b3" stroke-width="2.7"/>
<line x1="1067.09" y1="769.23" x2="1072.63" y2="769.23" stroke="#b3b3b3" stroke-width="2.7"/>
<line x1="1072.63" y1="769.23" x2="1078.17" y2="769.23" stroke="#b3b3b3" stroke-width="2.7"/>
<line x1="1078.17" y1="769.23" x2="1083.71" y2="769.23" stroke="#b3b3b3" stroke-width="2.7"/>
<line x1="1083.71" y1="769.23" x2="1089.25" y2="769.23" stroke="#b3b3b3" stroke-width="2.7"/>
<line x1="1089.25" y1="769.23" x2="1094.79" y2="769.23" stroke="#b3b3b3" stroke-width="2.7"/>
<line x1="1094.79" y1="769.23" x2="1100.33" y2="769.23" stroke="#b3b3b3" stroke-width="2.7"/>
<line x1="1100.33" y1="769.23" x2="1105.87" y2="769.23" stroke="#b3b3b3" stroke-width="2.7"/>
<line x1="1105.87" y1="769.23" x2="1111.41" y2="769.23" stroke="#b3b3b3" stroke-width="2.7"/>
<line x1="1111.41" y1="769.23" x2="1116.94" y2="769.23" stroke="#b3b3b3" stroke-width="2.7"/>
<line x1="1116.94" y1="769.23" x2="1122.48" y2="769.23" stroke="#b3b3b3" stroke-width="2.7"/>
<line x1="1122.48" y1="769.23" x2="1128.02" y2="769.23" stroke="#b3b3b3" stroke-width="2.7"/>
<line x1="1128.02" y1="769.23" x2="1133.56" y2="769.23" stroke="#b3b3b3" stroke-width="2.7"/>
<line x1="1133.56" y1="769.23" x2="1139.1" y2="769.23" stroke="#b3b3b3" stroke-width="2.7"/>
<line x1="1139.1" y1="769.23" x2="1144.64" y2="769.23" stroke="#b3b3b3" stroke-width="2.7"/>
<line x1="1144.64" y1="769.23" x2="1150.18" y2="769.23" stroke="#b3b3b3" stroke-width="2.7"/>
<line x1="1150.18" y1="769.23" x2="1155.72" y2="769.23" stroke="#b3b3b3" stroke-width="2.7"/>
<line x1="1155.72" y1="769.23" x2="1161.26" y2="769.23" stroke="#b3b3b3" stroke-width="2.7"/>
<line x1="1161.26" y1="769.23" x2="1166.8" y2="769.23" stroke="#b3b3b3" stroke-width="2.7"/>
<line x1="1166.8" y1="769.23" x2="1172.33" y2="769.23" stroke="#b3b3b3" stroke-width="2.7"/>
<line x1="1172.34" y1="769.23" x2="1177.87" y2="769.23" stroke="#b3b3b3" stroke-width="2.7"/>
<line x1="1177.87" y1="769.23" x2="1183.41" y2="769.23" stroke="#b3b3b3" stroke-width="2.7"/>
<line x1="1183.41" y1="769.23" x2="1188.95" y2="769.23" stroke="#b3b3b3" stroke-width="2.7"/>
<line x1="1188.95" y1="769.23" x2="1194.49" y2="769.23" stroke="#b3b3b3" stroke-width="2.7"/>
<line x1="1194.49" y1="769.23" x2="1200.03" y2="769.23" stroke="#b3b3b3" stroke-width="2.7"/>
<line x1="1200.03" y1="769.23" x2="1205.57" y2="769.23" stroke="#b3b3b3" stroke-width="2.7"/>
<line x1="1205.57" y1="769.23" x2="1211.11" y2="769.23" stroke="#b3b3b3" stroke-width="2.7"/>
<line x1="1211.11" y1="769.23" x2="1216.65" y2="769.23" stroke="#b3b3b3" stroke-width="2.7"/>
<line x1="1216.65" y1="769.23" x2="1222.19" y2="769.23" stroke="#b3b3b3" stroke-width="2.7"/>
<line x1="1222.19" y1="769.23" x2="1227.72" y2="769.23" stroke="#b3b3b3" stroke-width="2.7"/>
<line x1="1227.72" y1="769.23" x2="1233.26" y2="769.23" stroke="#b3b3b3" stroke-width="2.7"/>
<line x1="1233.26" y1="769.23" x2="1238.8" y2="769.23" stroke="#b3b3b3" stroke-width="2.7"/>
<line x1="1238.8" y1="769.23" x2="1244.34" y2="769.23" stroke="#b3b3b3" stroke-width="2.7"/>
<line x1="1244.34" y1="769.23" x2="1249.88" y2="769.23" stroke="#b3b3b3" stroke-width="2.7"/>
<line x1="1249.88" y1="769.23" x2="1255.42" y2="769.23" stroke="#b3b3b3" stroke-width="2.7"/>
<line x1="1255.42" y1="769.23" x2="1260.96" y2="769.23" stroke="#b3b3b3" stroke-width="2.7"/>
<line x1="1260.96" y1="769.23" x2="1266.5" y2="769.23" stroke="#b3b3b3" stroke-width="2.7"/>
<line x1="1266.5" y1="769.23" x2="1272.04" y2="769.23" stroke="#b3b3b3" stroke-width="2.7"/>
<line x1="1272.04" y1="769.23" x2="1277.58" y2="769.23" stroke="#b3b3b3" stroke-width="2.7"/>
<line x1="1277.58" y1="769.23" x2="1283.12" y2="769.23" stroke="#b3b3b3" stroke-width="2.7"/>
<line x1="1283.12" y1="769.23" x2="1288.65" y2="769.23" stroke="#b3b3b3" stroke-width="2.7"/>
<line x1="1288.65" y1="769.23" x2="1294.19" y2="769.23" stroke="#b3b3b3" stroke-width="2.7"/>
<line x1="1294.19" y1="769.23" x2="1299.73" y2="769.23" stroke="#b3b3b3" stroke-width="2.7"/>
<line x1="1299.73" y1="769.23" x2="1305.27" y2="769.23" stroke="#b3b3b3" stroke-width="2.7"/>
<line x1="1305.27" y1="769.23" x2="1310.81" y2="769.23" stroke="#b3b3b3" stroke-width="2.7"/>
<line x1="1310.81" y1="769.23" x2="1316.35" y2="769.23" stroke="#b3b3b3" stroke-width="2.7"/>
<line x1="1316.35" y1="769.23" x2="1321.89" y2="769.23" stroke="#b3b3b3" stroke-width="2.7"/>
<line x1="1321.89" y1="769.23" x2="1327.43" y2="769.23" stroke="#b3b3b3" stroke-width="2.7"/>
<line x1="1327.43" y1="769.23" x2="1332.97" y2="769.23" stroke="#b3b3b3" stroke-width="2.7"/>
<line x1="1332.97" y1="769.23" x2="1338.5" y2="769.23" stroke="#b3b3b3" stroke-width="2.7"/>
<line x1="1338.5" y1="769.23" x2="1344.04" y2="769.23" stroke="#b3b3b3" stroke-width="2.7"/>
<line x1="1344.04" y1="769.23" x2="1349.58" y2="769.23" stroke="#b3b3b3" stroke-width="2.7"/>
<line x1="1349.58" y1="769.23" x2="1355.12" y2="769.23" stroke="#b3b3b3" stroke-width="2.7"/>
<text transform="translate(35.8 446.5) rotate(-90)" x="0" y="0" text-anchor="middle" textLength="87.6" lengthAdjust="spacingAndGlyphs" font-family="Liberation Sans" font-size="29.8" fill="#000000">Count</text>
<text x="105.59" y="41.8" textLength="160.05" lengthAdjust="spacingAndGlyphs" font-family="Liberation Sans" font-weight="bold" font-size="38.5" fill="#13365c">Density</text>
<text x="278.64" y="41.8" textLength="61.27" lengthAdjust="spacingAndGlyphs" font-family="Liberation Sans" font-weight="bold" font-size="38.5" fill="#13365c">for</text>
<text x="352.2" y="41.8" textLength="115.81" lengthAdjust="spacingAndGlyphs" font-family="Liberation Sans" font-weight="bold" font-size="38.5" fill="#13365c">SHAP</text>
<text x="479.74" y="41.8" textLength="237.34" lengthAdjust="spacingAndGlyphs" font-family="Liberation Sans" font-weight="bold" font-size="38.5" fill="#13365c">corrections</text>
<text x="730.2" y="41.8" textLength="87.38" lengthAdjust="spacingAndGlyphs" font-family="Liberation Sans" font-weight="bold" font-size="38.5" fill="#13365c">that</text>
<text x="830.05" y="41.8" textLength="68.72" lengthAdjust="spacingAndGlyphs" font-family="Liberation Sans" font-weight="bold" font-size="38.5" fill="#13365c">are</text>
<text x="910.34" y="41.8" textLength="194.34" lengthAdjust="spacingAndGlyphs" font-family="Liberation Sans" font-weight="bold" font-size="38.5" fill="#13365c">migrated</text>
<text x="1116.84" y="41.8" textLength="44.2" lengthAdjust="spacingAndGlyphs" font-family="Liberation Sans" font-weight="bold" font-size="38.5" fill="#13365c">to</text>
<text x="1172.27" y="41.8" textLength="88.38" lengthAdjust="spacingAndGlyphs" font-family="Liberation Sans" font-weight="bold" font-size="38.5" fill="#13365c">bias</text>
<text x="381.19" y="95" textLength="51.19" lengthAdjust="spacingAndGlyphs" font-family="Liberation Sans" font-size="23.5" fill="#1a1a1a">Area</text>
<text x="1039.19" y="95" textLength="88.88" lengthAdjust="spacingAndGlyphs" font-family="Liberation Sans" font-size="23.5" fill="#1a1a1a">VehAge</text>
<text x="351.28" y="462" textLength="112.81" lengthAdjust="spacingAndGlyphs" font-family="Liberation Sans" font-size="23.5" fill="#1a1a1a">VehBrand</text>
<text x="1039.94" y="462" textLength="88.08" lengthAdjust="spacingAndGlyphs" font-family="Liberation Sans" font-size="23.5" fill="#1a1a1a">VehGas</text>
<text x="78.06" y="410.93" textLength="14" lengthAdjust="spacingAndGlyphs" font-family="Liberation Sans" font-size="23.5" fill="#4d4d4d">0</text>
<text x="63.46" y="317.15" textLength="28.81" lengthAdjust="spacingAndGlyphs" font-family="Liberation Sans" font-size="23.5" fill="#4d4d4d">50</text>
<text x="47.54" y="223.37" textLength="44.56" lengthAdjust="spacingAndGlyphs" font-family="Liberation Sans" font-size="23.5" fill="#4d4d4d">100</text>
<text x="47.54" y="129.6" textLength="44.56" lengthAdjust="spacingAndGlyphs" font-family="Liberation Sans" font-size="23.5" fill="#4d4d4d">150</text>
<text x="754.06" y="410.93" textLength="14" lengthAdjust="spacingAndGlyphs" font-family="Liberation Sans" font-size="23.5" fill="#4d4d4d">0</text>
<text x="753.95" y="317.78" textLength="14.77" lengthAdjust="spacingAndGlyphs" font-family="Liberation Sans" font-size="23.5" fill="#4d4d4d">5</text>
<text x="738.87" y="224.62" textLength="29.37" lengthAdjust="spacingAndGlyphs" font-family="Liberation Sans" font-size="23.5" fill="#4d4d4d">10</text>
<text x="738.85" y="131.47" textLength="29.39" lengthAdjust="spacingAndGlyphs" font-family="Liberation Sans" font-size="23.5" fill="#4d4d4d">15</text>
<text x="78.06" y="777.73" textLength="14" lengthAdjust="spacingAndGlyphs" font-family="Liberation Sans" font-size="23.5" fill="#4d4d4d">0</text>
<text x="47.54" y="713.95" textLength="44.56" lengthAdjust="spacingAndGlyphs" font-family="Liberation Sans" font-size="23.5" fill="#4d4d4d">100</text>
<text x="48.25" y="650.17" textLength="43.8" lengthAdjust="spacingAndGlyphs" font-family="Liberation Sans" font-size="23.5" fill="#4d4d4d">200</text>
<text x="48.31" y="586.39" textLength="44.13" lengthAdjust="spacingAndGlyphs" font-family="Liberation Sans" font-size="23.5" fill="#4d4d4d">300</text>
<text x="48.89" y="522.61" textLength="43.51" lengthAdjust="spacingAndGlyphs" font-family="Liberation Sans" font-size="23.5" fill="#4d4d4d">400</text>
<text x="754.06" y="777.73" textLength="14" lengthAdjust="spacingAndGlyphs" font-family="Liberation Sans" font-size="23.5" fill="#4d4d4d">0</text>
<text x="724.25" y="677.96" textLength="43.8" lengthAdjust="spacingAndGlyphs" font-family="Liberation Sans" font-size="23.5" fill="#4d4d4d">200</text>
<text x="724.89" y="578.19" textLength="43.51" lengthAdjust="spacingAndGlyphs" font-family="Liberation Sans" font-size="23.5" fill="#4d4d4d">400</text>
<text x="93.66" y="812.9" textLength="60.88" lengthAdjust="spacingAndGlyphs" font-family="Liberation Sans" font-size="23.5" fill="#4d4d4d">-0.25</text>
<text x="251.32" y="812.9" textLength="51.16" lengthAdjust="spacingAndGlyphs" font-family="Liberation Sans" font-size="23.5" fill="#4d4d4d">0.00</text>
<text x="403.73" y="812.9" textLength="50.92" lengthAdjust="spacingAndGlyphs" font-family="Liberation Sans" font-size="23.5" fill="#4d4d4d">0.25</text>
<text x="555.67" y="812.9" textLength="51.19" lengthAdjust="spacingAndGlyphs" font-family="Liberation Sans" font-size="23.5" fill="#4d4d4d">0.50</text>
<text x="769.66" y="812.9" textLength="60.88" lengthAdjust="spacingAndGlyphs" font-family="Liberation Sans" font-size="23.5" fill="#4d4d4d">-0.25</text>
<text x="927.32" y="812.9" textLength="51.16" lengthAdjust="spacingAndGlyphs" font-family="Liberation Sans" font-size="23.5" fill="#4d4d4d">0.00</text>
<text x="1079.73" y="812.9" textLength="50.92" lengthAdjust="spacingAndGlyphs" font-family="Liberation Sans" font-size="23.5" fill="#4d4d4d">0.25</text>
<text x="1231.67" y="812.9" textLength="51.19" lengthAdjust="spacingAndGlyphs" font-family="Liberation Sans" font-size="23.5" fill="#4d4d4d">0.50</text>
<text x="580.88" y="845.5" textLength="62.59" lengthAdjust="spacingAndGlyphs" font-family="Liberation Sans" font-size="29.5" fill="#000000">Bias</text>
<text x="653.62" y="845.5" textLength="79" lengthAdjust="spacingAndGlyphs" font-family="Liberation Sans" font-size="29.5" fill="#000000">Value</text>
<text x="742.1" y="845.5" textLength="166.92" lengthAdjust="spacingAndGlyphs" font-family="Liberation Sans" font-size="29.5" fill="#000000">Corrections</text>
</svg>
</body></html>
